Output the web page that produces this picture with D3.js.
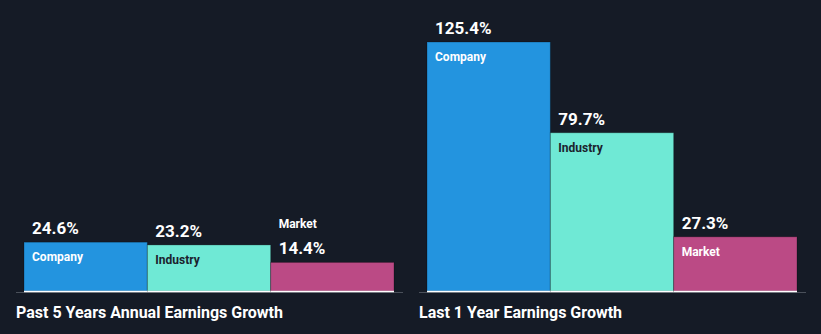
<!DOCTYPE html>
<html>
<head>
<meta charset="utf-8">
<script src="https://cdn.jsdelivr.net/npm/d3@7"></script>
<style>
html,body{margin:0;padding:0;background:#151b26;}
svg{display:block;}
text{font-family:Roboto,"Noto Sans",sans-serif;}
</style>
</head>
<body>
<svg id="chart" width="821" height="334"></svg>
<script>
const categories = ["Company", "Industry", "Market"];
const panelTitles = ["Past 5 Years Annual Earnings Growth", "Last 1 Year Earnings Growth"];
const past5Years = [24.6, 23.2, 14.4];
const last1Year = [125.4, 79.7, 27.3];
const valueLabels = [["24.6%", "23.2%", "14.4%"], ["125.4%", "79.7%", "27.3%"]];

const colors = {Company: "#2394df", Industry: "#6fe9d5", Market: "#bb4a85"};
const labelColors = {Company: "#ffffff", Industry: "#1b222d", Market: "#ffffff"};

const svg = d3.select("#chart");
svg.append("rect").attr("width", 821).attr("height", 334).attr("fill", "#151b26");

const baseY = 291;
const y = d3.scaleLinear().domain([0, 125.4]).range([baseY, 42]);

const panels = [
  {x0: 16, values: past5Years, labels: valueLabels[0], title: panelTitles[0]},
  {x0: 419, values: last1Year, labels: valueLabels[1], title: panelTitles[1]}
];

panels.forEach(p => {
  const g = svg.append("g");
  const x = d3.scaleBand().domain(categories).range([p.x0 + 8, p.x0 + 8 + 370]).paddingInner(0).paddingOuter(0);

  // axis line
  g.append("line")
    .attr("x1", p.x0).attr("x2", p.x0 + 387)
    .attr("y1", baseY + 1.5).attr("y2", baseY + 1.5)
    .attr("stroke", "#4a505a").attr("stroke-width", 1);

  categories.forEach((c, i) => {
    const v = p.values[i];
    const bx = x(c), bw = x.bandwidth(), top = y(v);
    g.append("rect")
      .attr("x", bx).attr("y", top)
      .attr("width", bw).attr("height", baseY - top)
      .attr("fill", colors[c])
      .attr("stroke", "rgba(0,0,0,0.25)").attr("stroke-width", 1);
    // white baseline under bar
    g.append("line")
      .attr("x1", bx).attr("x2", bx + bw)
      .attr("y1", baseY + 0.5).attr("y2", baseY + 0.5)
      .attr("stroke", "#ffffff").attr("stroke-width", 1.5);

    const barH = baseY - top;
    // value label above bar
    g.append("text")
      .attr("x", bx + 8).attr("y", top - 8)
      .attr("fill", "#ffffff")
      .attr("font-size", 17).attr("font-weight", 700)
      .text(p.labels[i]);
    if (barH >= 30) {
      g.append("text")
        .attr("x", bx + 8).attr("y", top + 19)
        .attr("fill", labelColors[c])
        .attr("font-size", 12).attr("font-weight", 700)
        .text(c);
    } else {
      g.append("text")
        .attr("x", bx + 8).attr("y", top - 34)
        .attr("fill", "#ffffff")
        .attr("font-size", 12).attr("font-weight", 700)
        .text(c);
    }
  });

  g.append("text")
    .attr("x", p.x0).attr("y", 317.5)
    .attr("fill", "#ffffff")
    .attr("font-size", 16).attr("font-weight", 700)
    .text(p.title);
});
</script>
</body>
</html>
